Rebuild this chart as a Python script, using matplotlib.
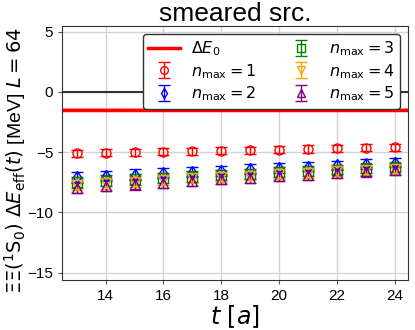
import numpy as np
import matplotlib
matplotlib.use("Agg")
import matplotlib.pyplot as plt

plt.rcParams['font.family'] = ['Liberation Sans', 'DejaVu Sans']
plt.rcParams['mathtext.fontset'] = 'dejavusans'

t = np.arange(13, 25)
dE0 = -1.5
dE0_err = 0.2

n1 = [-5.10, -5.05, -5.00, -4.97, -4.93, -4.88, -4.84, -4.79, -4.74, -4.69, -4.64, -4.58]
n1_err = [0.30, 0.30, 0.30, 0.30, 0.30, 0.30, 0.30, 0.30, 0.30, 0.30, 0.30, 0.30]
n2 = [-7.10, -6.98, -6.86, -6.75, -6.64, -6.53, -6.42, -6.31, -6.20, -6.09, -5.98, -5.88]
n2_err = [0.45, 0.45, 0.44, 0.43, 0.42, 0.42, 0.41, 0.40, 0.40, 0.39, 0.38, 0.38]
n3 = [-7.50, -7.38, -7.26, -7.14, -7.02, -6.90, -6.78, -6.67, -6.56, -6.45, -6.35, -6.25]
n3_err = [0.45, 0.45, 0.44, 0.43, 0.42, 0.42, 0.41, 0.40, 0.40, 0.39, 0.38, 0.38]
n4 = [-7.70, -7.57, -7.44, -7.31, -7.18, -7.06, -6.94, -6.82, -6.71, -6.60, -6.49, -6.39]
n4_err = [0.45, 0.45, 0.44, 0.43, 0.42, 0.42, 0.41, 0.40, 0.40, 0.39, 0.38, 0.38]
n5 = [-7.95, -7.80, -7.66, -7.52, -7.38, -7.25, -7.12, -6.99, -6.87, -6.75, -6.63, -6.52]
n5_err = [0.45, 0.45, 0.44, 0.43, 0.42, 0.42, 0.41, 0.40, 0.40, 0.39, 0.38, 0.38]

series = [
    (n1, n1_err, 'red', 'o', 1),
    (n2, n2_err, 'blue', 'd', 2),
    (n3, n3_err, 'green', 's', 3),
    (n4, n4_err, 'orange', 'v', 4),
    (n5, n5_err, 'purple', '^', 5),
]

fig = plt.figure(figsize=(4.15, 3.3), dpi=100)
ax = fig.add_axes([0.150, 0.152, 0.833, 0.770])

ax.axhline(0, color='#333333', lw=1.5, zorder=1)
ax.axhspan(dE0 - dE0_err, dE0 + dE0_err, color='red', alpha=0.3, lw=0, zorder=1)
ax.axhline(dE0, color='red', lw=2.5, label=r'$\Delta E_0$', zorder=2)

for vals, errs, c, m, n in series:
    ax.errorbar(t, vals, yerr=errs, fmt=m, color=c, mfc='none', ms=6.5, mew=1.0,
                capsize=4, elinewidth=1.0, capthick=1.0,
                label=r'$n_{\rm max} = %d$' % n, zorder=3)

ax.set_xlim(12.5, 24.45)
ax.set_ylim(-15.6, 5.5)
ax.set_xticks([14, 16, 18, 20, 22, 24])
ax.set_yticks([-15, -10, -5, 0, 5])
ax.tick_params(labelsize=11, length=3, color='#555555')
ax.grid(True, color='#d3d3d3', lw=1)
ax.set_axisbelow(True)
for s in ax.spines.values():
    s.set_color('#333333')

ax.set_title('smeared src.', fontsize=19, pad=3)
ax.set_xlabel(r'$t\ [a]$', fontsize=17, labelpad=0)
ax.set_ylabel(r'$\Xi\Xi(^1\mathrm{S}_0)\ \Delta E_{\rm eff}(t)$ [MeV] $L=64$', fontsize=14)
ax.yaxis.set_label_coords(-0.10, 0.47)

ax.legend(ncol=2, loc='upper right', fontsize=11.5, framealpha=1, edgecolor='#333333',
          handlelength=2.0, columnspacing=1.8, borderpad=0.35, labelspacing=0.25,
          handletextpad=0.7, markerscale=0.85)

fig.savefig('out.png', dpi=100)
